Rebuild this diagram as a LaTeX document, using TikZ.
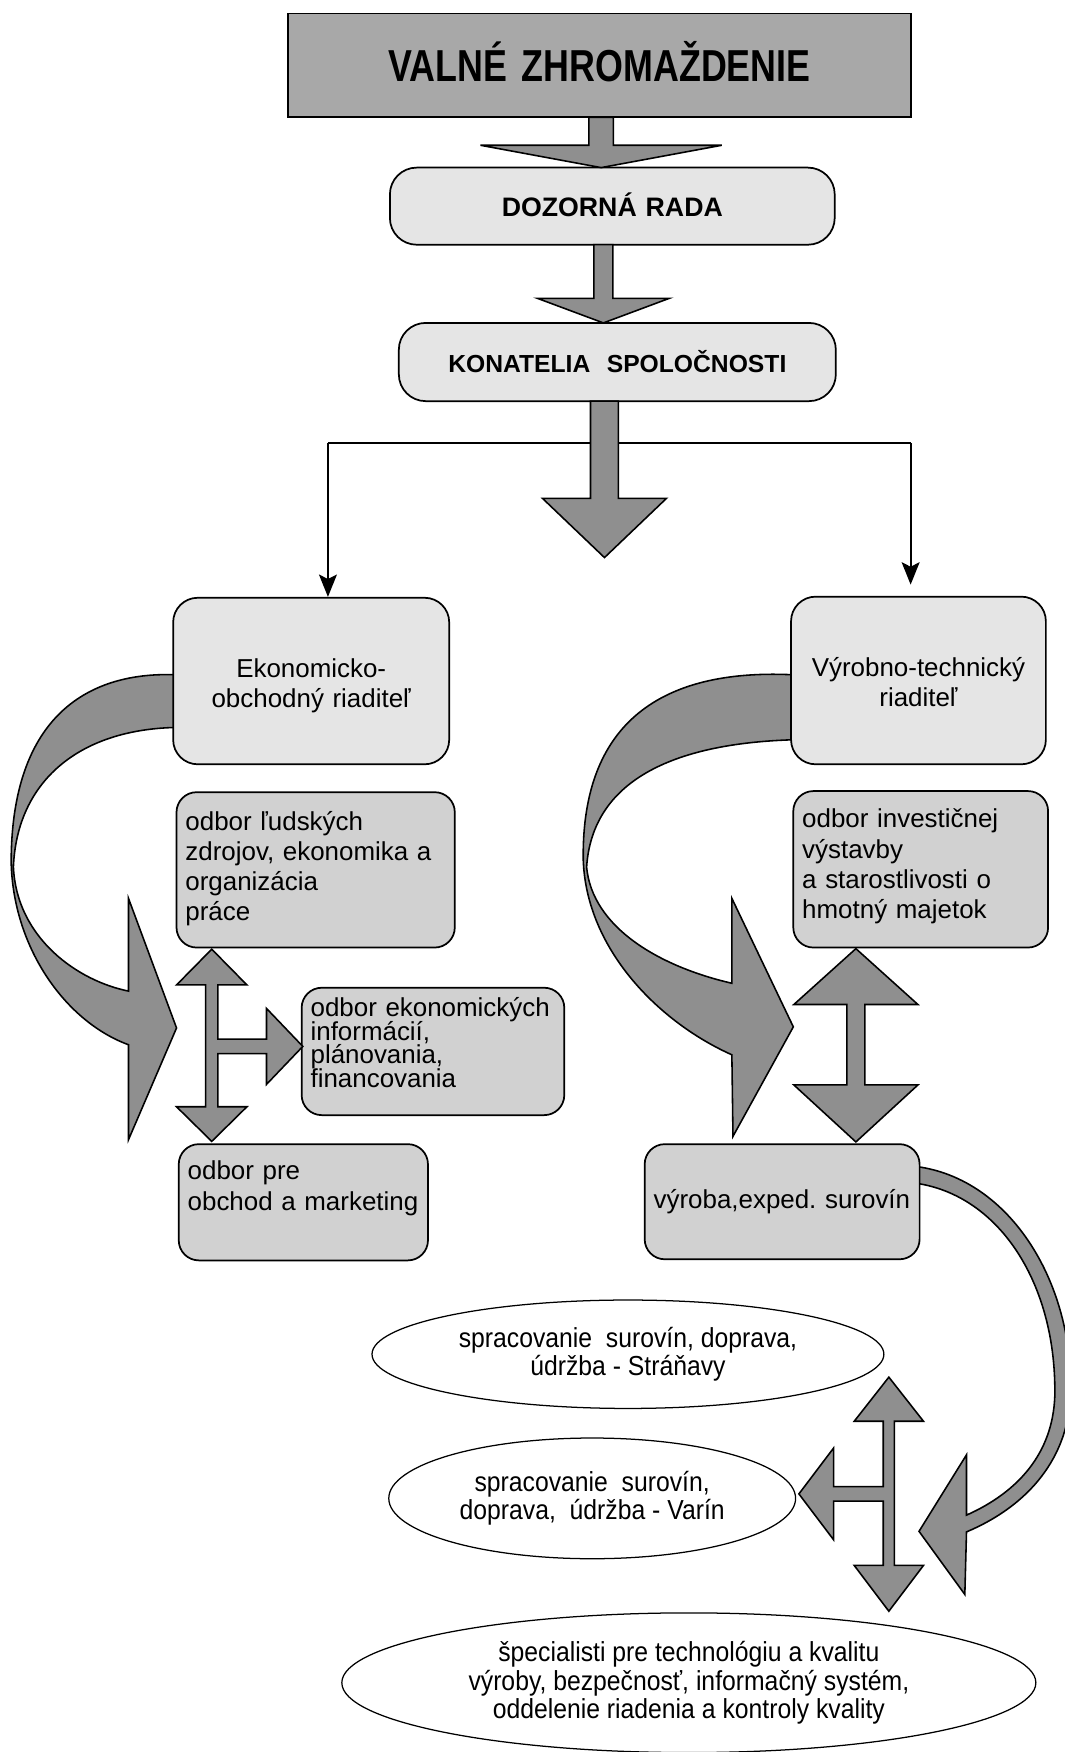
\documentclass[tikz,border=0pt]{standalone}
\usepackage{fontspec}
\setmainfont{Liberation Sans}
\newfontfamily\headfont[FakeStretch=0.8]{Liberation Sans}
\newfontfamily\ovalfont[FakeStretch=0.9]{Liberation Sans}
\usetikzlibrary{shapes.geometric,arrows.meta}
\definecolor{headgray}{gray}{0.66}
\definecolor{lightbox}{gray}{0.9}
\definecolor{midbox}{gray}{0.82}
\definecolor{arrowgray}{gray}{0.56}
\newcommand{\tightlines}{\lineskiplimit=-20pt\relax}

\begin{document}
\begin{tikzpicture}[x=0.025cm,y=-0.025cm,
        >={Stealth[length=0.5cm,width=0.4cm,inset=0.1cm]},
        box/.style={draw,line width=1.1pt,inner xsep=0.2cm,inner ysep=0pt,align=left,
            font=\fontsize{16.5}{19.2}\selectfont},
        dims/.style n args={3}{text width=#1,text height=#2,text depth=#3},
        oval/.style={draw,ellipse,fill=white,line width=0.8pt,inner sep=0pt,align=center,
            font=\ovalfont\fontsize{17.5}{18.1}\selectfont},
        blockarrow/.style={draw,fill=arrowgray,line width=1pt},
        ribbon/.style={draw,fill=arrowgray,line width=1pt},
        link/.style={line width=1.3pt}]
    \useasboundingbox (0,0) rectangle (953,1568);
    \fill[white] (0,0) rectangle (953,1568);
    \clip (0,0) rectangle (953,1568);

    % curved arrows
    \filldraw[ribbon] (160,604) .. controls (80,600) and (10,640) .. (10,772)
        .. controls (12,850) and (60,915) .. (115,935)
        -- (115,1020) -- (158,920) -- (115,804) -- (115,887)
        .. controls (70,878) and (15,840) .. (12,776)
        .. controls (15,700) and (70,652) .. (160,651) -- cycle;
    \filldraw[ribbon] (712,604) .. controls (600,598) and (520,640) .. (522,770)
        .. controls (525,850) and (590,915) .. (655,944)
        -- (656,1017) -- (710,919) -- (655,804) -- (655,880)
        .. controls (590,865) and (530,830) .. (525,776)
        .. controls (530,700) and (600,665) .. (712,662) -- cycle;
    \filldraw[ribbon] (820,1044) .. controls (905,1055) and (962,1150) .. (958,1250)
        .. controls (955,1310) and (915,1350) .. (865,1371)
        -- (863.5,1427) -- (822.5,1370.5) -- (865,1302) -- (865,1356)
        .. controls (912,1335) and (942,1300) .. (944,1250)
        .. controls (946,1150) and (895,1070) .. (820,1059) -- cycle;

    \node[box,fill=headgray,inner xsep=0pt,align=center,dims={13.925cm}{1.525cm}{0.8cm},
        font=\headfont\bfseries\fontsize{28.5}{30}\selectfont] (valne) at (536.5,58.5) {VALNÉ ZHROMAŽDENIE};
    \node[box,fill=lightbox,rounded corners=0.6cm,align=center,dims={9.55cm}{1.1cm}{0.625cm},
        font=\bfseries\fontsize{17}{20}\selectfont] (dozor) at (548,184.5) {DOZORNÁ RADA};
    \node[box,fill=lightbox,rounded corners=0.6cm,align=center,dims={9.375cm}{1.1cm}{0.65cm},
        font=\bfseries\fontsize{15.7}{19}\selectfont] (konat) at (552.5,324) {KONATELIA\ \ SPOLOČNOSTI};

    \node[box,fill=lightbox,rounded corners=0.55cm,align=center,dims={5.775cm}{1.775cm}{1.95cm}]
        (ekoriad) at (278.5,609.5) {Ekonomicko-\\obchodný riaditeľ};
    \node[box,fill=lightbox,rounded corners=0.55cm,align=center,dims={5.3cm}{1.775cm}{1.975cm}]
        (vyrriad) at (822,609) {Výrobno-technický\\riaditeľ};
    \node[box,fill=midbox,rounded corners=0.45cm,dims={5.825cm}{0.85cm}{2.625cm}]
        (ludske) at (282.5,778.5) {odbor ľudských\\zdrojov, ekonomika a\\organizácia\\práce};
    \node[box,fill=midbox,rounded corners=0.45cm,dims={5.3cm}{0.825cm}{2.675cm}]
        (invest) at (824,778) {odbor investičnej\\výstavby\\a starostlivosti o\\hmotný majetok};
    \node[box,fill=midbox,rounded corners=0.45cm,dims={5.475cm}{0.65cm}{2.2cm},
        font=\fontsize{16.5}{15}\selectfont\tightlines]
        (ekoinf) at (387.5,941) {odbor ekonomických\\informácií,\\plánovania,\\financovania};
    \node[box,fill=midbox,rounded corners=0.45cm,dims={5.175cm}{0.8cm}{1.8cm}]
        (obchod) at (271.5,1076) {odbor pre\\obchod a marketing};
    \node[box,fill=midbox,rounded corners=0.45cm,dims={5.75cm}{1.45cm}{1.125cm}]
        (vyroba) at (700,1075.5) {\mbox{výroba,exped.\ surovín}};

    \node[oval,minimum width=11.45cm,minimum height=2.425cm] (stranavy) at (562,1212)
        {spracovanie\ \ surovín, doprava,\\údržba - Stráňavy};
    \node[oval,minimum width=9.1cm,minimum height=2.7cm] (varin) at (530,1341)
        {spracovanie\ \ surovín,\\doprava,\ \ údržba - Varín};
    \node[oval,minimum width=15.525cm,minimum height=3.125cm] (special) at (616.5,1506)
        {špecialisti pre technológiu a kvalitu\\výroby, bezpečnosť, informačný systém,\\oddelenie riadenia a kontroly kvality};

    % split to the two directors
    \draw[link] (293.5,396.6) coordinate (lt) -- (815,396.6) coordinate (rt);
    \draw[link,->] (lt) -- (lt |- ekoriad.north);
    \draw[link,->,shorten >=0.25cm] (rt) -- (rt |- vyrriad.north);

    \foreach \c/\s/\ya/\yb/\h/\yc in {538/11/105/130/108/150, 540/8.5/219/267/59/289, 541/12.5/359/446/55.5/499}
        \filldraw[blockarrow] (\c-\s,\ya) -- (\c-\s,\yb) -- (\c-\h,\yb) -- (\c,\yc)
            -- (\c+\h,\yb) -- (\c+\s,\yb) -- (\c+\s,\ya) -- cycle;

    \filldraw[blockarrow] (189.5,849.5) -- (221,881.5) -- (195,881.5) -- (195,930) -- (238.5,930)
        -- (238.5,902.5) -- (271,936.5) -- (238.5,970.5) -- (238.5,943) -- (195,943) -- (195,990.5)
        -- (221,990.5) -- (189.5,1021.5) -- (158,990.5) -- (184,990.5) -- (184,881.5) -- (158,881.5) -- cycle;
    \filldraw[blockarrow] (766,849) -- (821.5,899) -- (774,899) -- (774,971) -- (821.5,971)
        -- (766,1022) -- (710.5,971) -- (758,971) -- (758,899) -- (710.5,899) -- cycle;
    \filldraw[blockarrow] (795.5,1232.5) -- (826.5,1272) -- (800.5,1272) -- (800.5,1401) -- (826.5,1401)
        -- (795.5,1442) -- (764.5,1401) -- (790.5,1401) -- (790.5,1343.5) -- (746,1343.5) -- (746,1378)
        -- (715,1337) -- (746,1296) -- (746,1330.5) -- (790.5,1330.5) -- (790.5,1272) -- (764.5,1272) -- cycle;
\end{tikzpicture}
\end{document}
